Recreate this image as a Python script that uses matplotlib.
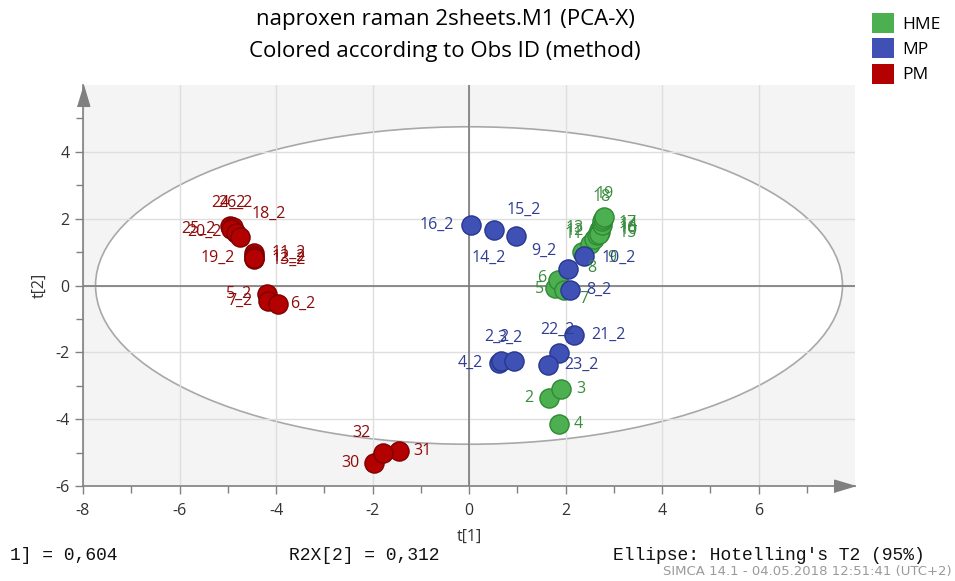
import matplotlib

matplotlib.use("Agg")
import matplotlib.pyplot as plt
from matplotlib.patches import Ellipse, Patch
from matplotlib.transforms import Bbox, TransformedBbox

plt.rcParams["font.family"] = ["Open Sans", "DejaVu Sans"]
plt.rcParams["axes.unicode_minus"] = False

# Score values t[1], t[2] per observation, one set of lists per method
hme_ids = ["2", "3", "4", "5", "6", "7", "8", "9", "10", "11", "12", "13",
           "14", "15", "16", "17", "18", "19"]
hme_t1 = [1.66, 1.90, 1.87, 1.78, 1.84, 1.97, 2.34, 2.51, 2.72, 2.59, 2.65,
          2.69, 2.74, 2.70, 2.76, 2.76, 2.78, 2.80]
hme_t2 = [-3.37, -3.10, -4.15, -0.06, 0.15, -0.12, 1.00, 1.25, 1.60, 1.40,
          1.50, 1.65, 1.75, 1.55, 1.82, 1.93, 2.00, 2.06]

mp_ids = ["16_2", "15_2", "14_2", "9_2", "10_2", "8_2", "4_2", "2_2", "3_2",
          "21_2", "22_2", "23_2"]
mp_t1 = [0.04, 0.52, 0.98, 2.05, 2.39, 2.09, 0.62, 0.66, 0.93, 2.18, 1.87,
         1.64]
mp_t2 = [1.82, 1.67, 1.49, 0.48, 0.87, -0.12, -2.31, -2.26, -2.27, -1.49,
         -2.03, -2.37]

pm_ids = ["24_2", "26_2", "25_2", "20_2", "18_2", "11_2", "12_2", "13_2",
          "19_2", "5_2", "7_2", "6_2", "30", "31", "32"]
pm_t1 = [-4.95, -4.90, -4.93, -4.83, -4.75, -4.45, -4.45, -4.45, -4.45,
         -4.19, -4.17, -3.95, -1.97, -1.45, -1.79]
pm_t2 = [1.77, 1.74, 1.70, 1.57, 1.45, 0.98, 0.87, 0.78, 0.82, -0.25, -0.45,
         -0.55, -5.30, -4.96, -5.00]

# label placement (pixel offsets from the marker), tuned to avoid overlaps
hme_off = [(-20, 0), (20, 0), (19, 0), (-15, -1), (-16, 2), (20, -9),
           (10, -16), (22, -14), (28, 2), (-20, 5), (-22, 4), (-24, 2),
           (27, 2), (28, 1), (26, -3), (26, -2), (-1, 22), (1, 23)]
mp_off = [(-34, 0), (30, 20), (-28, -22), (-24, 19), (34, -1), (29, 0),
          (-29, 0), (-4, 24), (-4, 24), (34, 0), (-2, 23), (33, 0)]
pm_off = [(-2, 24), (3, 25), (-33, 0), (-32, 1), (29, 23), (34, 0), (34, 0),
          (34, 0), (-37, 0), (-28, 0), (-28, 0), (24, 0), (-24, 0), (23, 0),
          (-21, 20)]

# Hotelling's T2 (95%) ellipse semi-axes
ell_a, ell_b = 7.74, 4.75

groups = [
    ("HME", hme_ids, hme_t1, hme_t2, hme_off, "#4caf50", "#2f8a34", "#3a8c3f"),
    ("MP", mp_ids, mp_t1, mp_t2, mp_off, "#3f51b5", "#27378f", "#2f3d94"),
    ("PM", pm_ids, pm_t1, pm_t2, pm_off, "#b30000", "#7e0000", "#8f0a0a"),
]

fig = plt.figure(figsize=(9.55, 5.81), dpi=100)
ax = fig.add_axes([83 / 955, 95 / 581, 772 / 955, 401 / 581])
ax.set_facecolor("#f4f4f4")
ax.set_xlim(-8, 8)
ax.set_ylim(-6, 6)

ax.add_patch(Ellipse((0, 0), 2 * ell_a, 2 * ell_b, facecolor="white",
                     edgecolor="#a8a8a8", linewidth=1.2, zorder=0.3))
ax.set_axisbelow(True)
ax.grid(True, color="#dedede", linewidth=1.0)
ax.axhline(0, color="#7a7a7a", linewidth=1.2, zorder=0.6)
ax.axvline(0, color="#7a7a7a", linewidth=1.2, zorder=0.6)

for name, ids, t1, t2, off, fc, ec, tc in groups:
    ax.scatter(t1, t2, s=190, facecolor=fc, edgecolor=ec, linewidth=1.0,
               zorder=3, label=name)
    for lab, x, y, (dx, dy) in zip(ids, t1, t2, off):
        ax.annotate(lab, (x, y), xytext=(dx, dy), textcoords="offset pixels",
                    ha="center", va="center", fontsize=11.5, color=tc,
                    zorder=4)

ax.set_xticks(range(-8, 7, 2))
ax.set_yticks(range(-6, 5, 2))
ax.set_xticks(range(-7, 8, 2), minor=True)
ax.set_yticks(range(-5, 6, 2), minor=True)
ax.tick_params(which="both", direction="out", color="#808080",
               labelcolor="#333333", labelsize=11.5, width=1.0)
ax.tick_params(which="major", length=6)
ax.tick_params(axis="x", pad=6)
ax.tick_params(which="minor", length=5)
for side in ("top", "right"):
    ax.spines[side].set_visible(False)
for side in ("left", "bottom"):
    ax.spines[side].set_color("#808080")
    ax.spines[side].set_linewidth(1.2)

# arrow heads at the ends of the axes
ax.plot([0], [1], transform=ax.transAxes, clip_on=False, color="#808080",
        marker=[(-0.3, -1), (0.3, -1), (0, 0)], markersize=30, zorder=5)
ax.plot([1], [0], transform=ax.transAxes, clip_on=False, color="#808080",
        marker=[(-1, -0.3), (-1, 0.3), (0, 0)], markersize=30, zorder=5)

ax.set_xlabel("t[1]", fontsize=11.5, color="#333333", labelpad=7)
ax.set_ylabel("t[2]", fontsize=11.5, color="#333333", labelpad=6)

fig.text(445 / 955, 1 - 20 / 581, "naproxen raman 2sheets.M1 (PCA-X)",
         ha="center", va="center", fontsize=16, color="black")
fig.text(445 / 955, 1 - 52 / 581, "Colored according to Obs ID (method)",
         ha="center", va="center", fontsize=16, color="black")

handles = [Patch(facecolor=g[5], edgecolor="none", label=g[0]) for g in groups]
fig.legend(handles=handles, loc="upper left", bbox_to_anchor=(859 / 955, 1.0),
           frameon=False, fontsize=12.5, handlelength=1.25, handleheight=1.4,
           handletextpad=0.5, labelspacing=0.3, borderpad=0.25)

# footer: explained variance and ellipse note (the first one runs past the
# left edge of its panel, so it is clipped)
mono = ["Liberation Mono", "DejaVu Sans Mono"]
r2x1 = fig.text(-33 / 955, 1 - 555 / 581, "R2X[1] = 0,604", family=mono,
                fontsize=13, va="center", ha="left", color="#111111")
r2x1.set_clip_box(TransformedBbox(Bbox([[9 / 955, 0], [1, 1]]),
                                  fig.transFigure))
r2x1.set_clip_on(True)
fig.text(289 / 955, 1 - 555 / 581, "R2X[2] = 0,312", family=mono,
         fontsize=13, va="center", ha="left", color="#111111")
fig.text(613 / 955, 1 - 555 / 581, "Ellipse: Hotelling's T2 (95%)",
         family=mono, fontsize=13, va="center", ha="left", color="#111111")
fig.text(952 / 955, 1 - 571 / 581, "SIMCA 14.1 - 04.05.2018 12:51:41 (UTC+2)",
         family=["Liberation Sans Narrow", "DejaVu Sans"], fontsize=9.5,
         va="center", ha="right", color="#9a9a9a")

fig.savefig("out.png", dpi=100)
